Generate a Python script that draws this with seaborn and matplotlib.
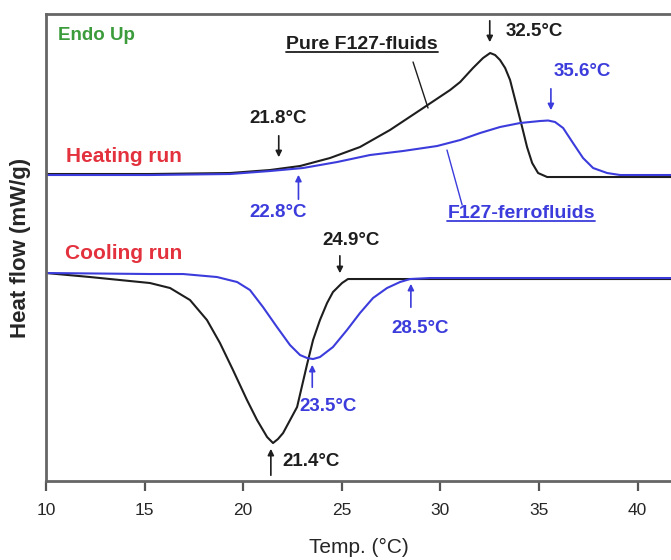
import pandas as pd
import matplotlib
matplotlib.use("Agg")
import matplotlib.pyplot as plt
import seaborn as sns

# DSC-kurvor, värden (y i godtyckliga enheter)
heat_pure_T = [10.0, 15.27, 19.33, 21.36, 22.88, 24.40, 25.92, 27.44, 28.97, 30.49, 31.0, 31.65,
               32.16, 32.52, 32.77, 33.02, 33.28, 33.53, 33.88, 34.14, 34.39, 34.65, 34.95, 35.41,
               36.06, 41.69]
heat_pure_y = [3.07, 3.07, 3.08, 3.11, 3.15, 3.23, 3.34, 3.51, 3.71, 3.91, 3.99, 4.13,
               4.23, 4.28, 4.26, 4.21, 4.13, 4.01, 3.74, 3.54, 3.34, 3.18, 3.08, 3.04,
               3.04, 3.04]

heat_ferro_T = [10.0, 15.27, 19.33, 21.36, 23.03, 24.76, 26.43, 28.10, 29.83, 31.0, 32.01, 33.02,
                34.04, 35.05, 35.46, 35.81, 36.22, 36.72, 37.23, 37.74, 38.45, 39.11, 41.69]
heat_ferro_y = [3.06, 3.06, 3.07, 3.10, 3.13, 3.19, 3.26, 3.30, 3.35, 3.41, 3.48, 3.54,
                3.58, 3.60, 3.605, 3.59, 3.53, 3.38, 3.23, 3.13, 3.08, 3.06, 3.06]

cool_pure_T = [10.0, 12.23, 15.27, 16.29, 17.30, 18.16, 18.82, 19.48, 20.19, 20.70, 21.21, 21.51,
               21.76, 22.02, 22.73, 23.24, 23.54, 23.89, 24.25, 24.55, 25.01, 25.31, 26.28, 41.69]
cool_pure_y = [2.08, 2.04, 1.98, 1.93, 1.81, 1.61, 1.38, 1.11, 0.81, 0.61, 0.44, 0.38,
               0.42, 0.48, 0.74, 1.17, 1.41, 1.61, 1.78, 1.89, 1.98, 2.02, 2.02, 2.02]

cool_ferro_T = [10.0, 15.27, 16.95, 18.67, 19.69, 20.34, 21.0, 21.71, 22.37, 22.88, 23.24, 23.54,
                23.89, 24.55, 25.26, 25.92, 26.58, 27.29, 27.95, 28.46, 29.47, 41.69]
cool_ferro_y = [2.08, 2.07, 2.07, 2.04, 1.99, 1.91, 1.74, 1.54, 1.36, 1.26, 1.23, 1.22,
                1.24, 1.34, 1.51, 1.68, 1.83, 1.93, 1.99, 2.02, 2.03, 2.03]

x_ticks = [10, 15, 20, 25, 30, 35, 40]

BLACK = "#1e1e1e"
BLUE = "#3c3cdc"
RED = "#e3323e"
GREEN = "#3c9c3c"

sns.set_style("ticks")
plt.rcParams["font.family"] = ["Liberation Sans", "DejaVu Sans"]

fig = plt.figure(figsize=(6.71, 5.6), dpi=100)
ax = fig.add_axes([0.0686, 0.141, 0.9314, 0.834])

curves = [
    (heat_pure_T, heat_pure_y, BLACK),
    (heat_ferro_T, heat_ferro_y, BLUE),
    (cool_pure_T, cool_pure_y, BLACK),
    (cool_ferro_T, cool_ferro_y, BLUE),
]
for T, y, c in curves:
    df = pd.DataFrame({"T": T, "y": y})
    sns.lineplot(data=df, x="T", y="y", color=c, lw=1.5, sort=False, estimator=None, ax=ax)

ax.set_xlim(10, 41.69)
ax.set_ylim(0, 4.67)
ax.set_xticks(x_ticks)
ax.set_yticks([])
ax.set_xlabel("Temp. (°C)", fontsize=15, labelpad=14)
ax.set_ylabel("Heat flow (mW/g)", fontsize=16, fontweight="bold", labelpad=11)
ax.tick_params(axis="x", direction="out", length=7, width=1.6, color="#555555",
               labelsize=12.5, pad=9)
for s in ["left", "bottom", "top"]:
    ax.spines[s].set_linewidth(2)
    ax.spines[s].set_color("#666666")
ax.spines["right"].set_visible(False)

# texter
fs = 13.5
ax.text(10.61, 4.46, "Endo Up", color=GREEN, fontsize=fs, fontweight="bold", va="center")
ax.text(11.0, 3.25, "Heating run", color=RED, fontsize=15, fontweight="bold", va="center")
ax.text(10.96, 2.28, "Cooling run", color=RED, fontsize=15, fontweight="bold", va="center")
t_pure = ax.text(26.02, 4.37, "Pure F127-fluids", color=BLACK, fontsize=14, fontweight="bold",
                 ha="center", va="center")
t_ferro = ax.text(34.09, 2.68, "F127-ferrofluids", color=BLUE, fontsize=14, fontweight="bold",
                  ha="center", va="center")

# pilar med temperaturer
arrows = [
    ("32.5°C", BLACK, 32.5, 4.63, 4.36, 33.28, 4.50, "left"),
    ("35.6°C", BLUE, 35.6, 3.95, 3.68, 37.18, 4.10, "center"),
    ("21.8°C", BLACK, 21.8, 3.48, 3.21, 21.76, 3.63, "center"),
    ("22.8°C", BLUE, 22.8, 2.79, 3.09, 21.76, 2.69, "center"),
    ("24.9°C", BLACK, 24.9, 2.28, 2.05, 25.47, 2.41, "center"),
    ("28.5°C", BLUE, 28.5, 1.71, 2.00, 28.97, 1.53, "center"),
    ("23.5°C", BLUE, 23.5, 0.91, 1.19, 24.30, 0.75, "center"),
    ("21.4°C", BLACK, 21.4, 0.03, 0.35, 21.97, 0.20, "left"),
]
for lab, c, xa, y0, y1, xt, yt, ha in arrows:
    ax.annotate("", xy=(xa, y1), xytext=(xa, y0),
                arrowprops=dict(arrowstyle="-|>", color=c, lw=1.2, mutation_scale=9))
    ax.text(xt, yt, lab, color=c, fontsize=fs, fontweight="bold", ha=ha, va="center")

# ledarlinjer
ax.plot([28.61, 29.37], [4.19, 3.73], color=BLACK, lw=1.0)
ax.plot([30.33, 31.10], [3.31, 2.76], color=BLUE, lw=1.0)

# understrykning under etiketterna
fig.canvas.draw()
inv = ax.transData.inverted()
for t, c in [(t_pure, BLACK), (t_ferro, BLUE)]:
    bb = t.get_window_extent()
    (x0, yb), (x1, _) = inv.transform([(bb.x0, bb.y0), (bb.x1, bb.y0)])
    ax.plot([x0, x1], [yb + 0.01, yb + 0.01], color=c, lw=1.3)

fig.savefig("out.png", dpi=100)
